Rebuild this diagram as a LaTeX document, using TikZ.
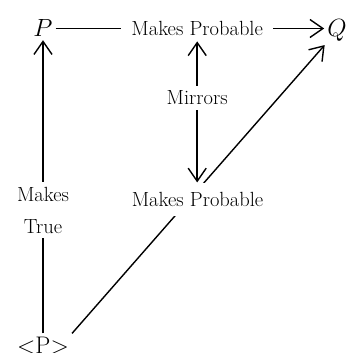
\documentclass[tikz,border=0pt]{standalone}
\usetikzlibrary{arrows.meta}
\begin{document}
\begin{tikzpicture}[x=1pt, y=1pt,
  >={Straight Barb[length=13pt,width=18pt]},
  arr/.style={line width=1.4pt},
  prop/.style={inner sep=3pt, font=\fontsize{24}{28}\selectfont},
  lbl/.style={fill=white, inner xsep=10pt, inner ysep=5pt, align=center,
              font=\fontsize{20.5}{32}\selectfont}
]
\useasboundingbox (0,0) rectangle (348,353);
% propositions
\node[prop, anchor=base] (P) at (43,316) {$P$};
\node[prop, anchor=base] (Q) at (337,316) {$Q$};
\node[prop, anchor=base] (tP) at (43,0) {\textless P\textgreater};

% relations
\draw[arr, ->] (P.east) -- node[lbl, pos=0.527] (mpTop) {Makes Probable} (P.east -| Q.west);
\draw[arr, ->] (tP) -- node[lbl, pos=0.42] {Makes\\True} (P);
\draw[arr, ->] (tP.north east) -- node[lbl, pos=0.465, xshift=8pt, inner ysep=9pt] (mpMid) {Makes Probable} (Q);
\draw[arr, <->] (mpTop.south) -- node[lbl, pos=0.4] {Mirrors} (mpTop.south |- mpMid.north);
\end{tikzpicture}
\end{document}
